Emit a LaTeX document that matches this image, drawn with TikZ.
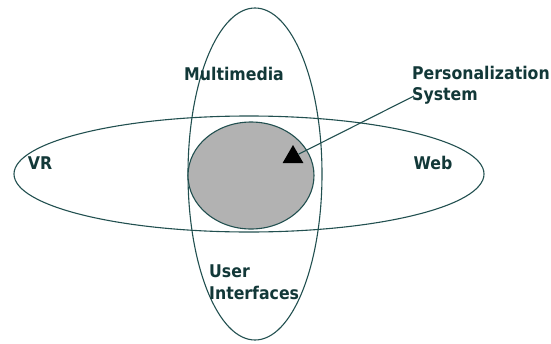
\documentclass[tikz,border=0pt]{standalone}
\usepackage{fontspec}
\setmainfont{DejaVu Sans Condensed}
\usetikzlibrary{shapes.geometric,positioning}
\definecolor{rimteal}{RGB}{34,80,80}
\definecolor{inkteal}{RGB}{18,56,56}
\definecolor{coregray}{RGB}{178,178,178}

\begin{document}
\begin{tikzpicture}[
  x=1pt, y=-1pt,
  field/.style={ellipse, draw=rimteal, line width=1.1pt, inner sep=0pt},
  core/.style={ellipse, draw=rimteal, line width=1.1pt, fill=coregray, inner sep=0pt},
  label/.style={text=inkteal, font=\fontsize{17.5}{21.5}\selectfont\bfseries, inner sep=0pt, align=left},
  pointer/.style={draw=rimteal, line width=1.1pt}
]
\useasboundingbox (0,0) rectangle (551,343);
\node[field, minimum width=470pt, minimum height=116pt] (wide) at (249,174) {};
\node[field, minimum width=134pt, minimum height=332pt] (tall) at (255,174) {};
\node[core, minimum width=126pt, minimum height=107pt] (perscore) at (251,175.5) {};
\node[regular polygon, regular polygon sides=3, fill=black, inner sep=0pt,
  minimum size=24pt] (tri) at (293,157) {};

\node[label, anchor=base] (mm) at (234,80) {Multimedia};
\node[label, anchor=base] (vr) at (40,169) {VR};
\node[label, anchor=base] (web) at (433,169) {Web};
\node[label, anchor=north west] (ui) at (209,265) {User\\Interfaces};
\node[label, anchor=north west] (perso) at (412,66) {Personalization\\System};

\coordinate (tip) at (414,96);
\draw[pointer] (tri) -- (tip);
\end{tikzpicture}
\end{document}
